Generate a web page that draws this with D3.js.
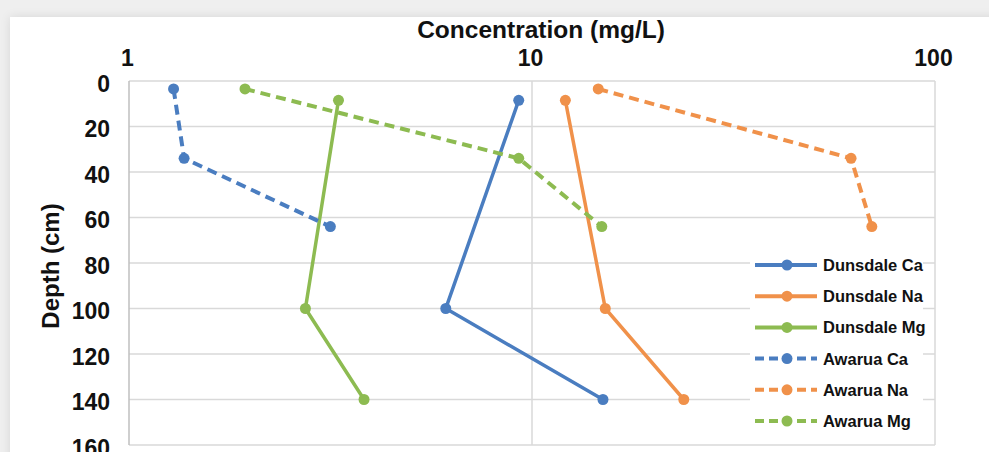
<!DOCTYPE html>
<html>
<head>
<meta charset="utf-8">
<script src="https://cdn.jsdelivr.net/npm/d3@7"></script>
<style>
body { margin: 0; background: #efefef; overflow: hidden; }
#card { position: absolute; left: 10px; top: 17px; width: 1000px; height: 480px; background: #fff; box-shadow: 0 0 10px rgba(0,0,0,0.10); }
#chart { position: absolute; left: 0; top: 0; }
text { font-family: "Liberation Sans", Arial, sans-serif; font-weight: bold; fill: #111; }
</style>
</head>
<body>
<div id="card"></div>
<div id="chart"></div>
<script>
// depths (cm) of the sampled layers
var depthDunsdale = [8.5, 100, 140];
var depthAwarua = [3.5, 34, 64];

// concentrations (mg/L)
var dunsdaleCa = [9.27, 6.11, 15.0];
var dunsdaleNa = [12.1, 15.2, 23.8];
var dunsdaleMg = [3.31, 2.74, 3.83];
var awaruaCa = [1.29, 1.37, 3.16];
var awaruaNa = [14.6, 61.9, 69.7];
var awaruaMg = [1.94, 9.27, 14.9];

var seriesNames = ["Dunsdale Ca", "Dunsdale Na", "Dunsdale Mg", "Awarua Ca", "Awarua Na", "Awarua Mg"];
var xTicks = [1, 10, 100];
var yTicks = [0, 20, 40, 60, 80, 100, 120, 140, 160];

var colors = ["#4a7dc0", "#f0914a", "#8dbb51", "#4a7dc0", "#f0914a", "#8dbb51"];
var dashed = [false, false, false, true, true, true];

var series = [
    {name: seriesNames[0], depth: depthDunsdale, values: dunsdaleCa},
    {name: seriesNames[1], depth: depthDunsdale, values: dunsdaleNa},
    {name: seriesNames[2], depth: depthDunsdale, values: dunsdaleMg},
    {name: seriesNames[3], depth: depthAwarua, values: awaruaCa},
    {name: seriesNames[4], depth: depthAwarua, values: awaruaNa},
    {name: seriesNames[5], depth: depthAwarua, values: awaruaMg}
];
series.forEach(function(s, i) {
    s.color = colors[i];
    s.dashed = dashed[i];
    s.points = s.values.map(function(v, j) { return {value: v, depth: s.depth[j]}; });
});

var width = 989, height = 460;
var plot = {left: 129, right: 935, top: 81, bottom: 445};

var x = d3.scaleLog().domain([1, 100]).range([plot.left, plot.right]);
var y = d3.scaleLinear().domain([0, 160]).range([plot.top, plot.bottom]);

var svg = d3.select("#chart")
    .append("svg")
    .attr("width", width)
    .attr("height", height);

// gridlines
svg.append("g")
    .selectAll("line")
    .data(yTicks)
    .join("line")
    .attr("x1", plot.left).attr("x2", plot.right)
    .attr("y1", function(d) { return y(d); })
    .attr("y2", function(d) { return y(d); })
    .attr("stroke", "#d9d9d9")
    .attr("stroke-width", 1.5);

svg.append("g")
    .selectAll("line")
    .data(xTicks)
    .join("line")
    .attr("x1", function(d) { return x(d); })
    .attr("x2", function(d) { return x(d); })
    .attr("y1", plot.top).attr("y2", plot.bottom)
    .attr("stroke", function(d, i) { return i == 0 ? "#bfbfbf" : "#d9d9d9"; })
    .attr("stroke-width", 1.5);

// top axis (concentration)
var xAxis = d3.axisTop(x).tickValues(xTicks).tickFormat(d3.format("d")).tickSize(0);
var gx = svg.append("g")
    .attr("transform", "translate(-2,66)")
    .call(xAxis);
gx.select(".domain").remove();
gx.selectAll("text").attr("dy", 0).attr("y", 0).style("font-size", "23px");

// left axis (depth)
var yAxis = d3.axisLeft(y).tickValues(yTicks).tickSize(0);
var gy = svg.append("g")
    .attr("transform", "translate(110,0)")
    .call(yAxis);
gy.select(".domain").remove();
gy.selectAll("text").attr("x", 0).attr("dy", 10).style("font-size", "23px");

svg.append("text")
    .attr("x", 541)
    .attr("y", 38)
    .attr("text-anchor", "middle")
    .style("font-size", "24.5px")
    .text("Concentration (mg/L)");

svg.append("text")
    .attr("transform", "translate(59,266) rotate(-90)")
    .attr("text-anchor", "middle")
    .style("font-size", "24px")
    .text("Depth (cm)");

// lines
var valueline = d3.line()
    .x(function(d) { return x(d.value); })
    .y(function(d) { return y(d.depth); });

series.forEach(function(s) {
    svg.append("path")
        .attr("d", valueline(s.points))
        .attr("fill", "none")
        .attr("stroke", s.color)
        .attr("stroke-width", s.dashed ? 4 : 3.5)
        .attr("stroke-dasharray", s.dashed ? "10,6" : null);
    svg.append("g")
        .selectAll("circle")
        .data(s.points)
        .join("circle")
        .attr("cx", function(d) { return x(d.value); })
        .attr("cy", function(d) { return y(d.depth); })
        .attr("r", 5.5)
        .attr("fill", s.color);
});

// legend
var legend = svg.append("g");
legend.append("rect")
    .attr("x", 750).attr("y", 245)
    .attr("width", 173).attr("height", 197)
    .attr("fill", "#fff");

var item = legend.selectAll("g.item")
    .data(series)
    .join("g")
    .attr("class", "item")
    .attr("transform", function(d, i) { return "translate(0," + (265 + i * 31.2) + ")"; });

item.append("line")
    .attr("x1", 755).attr("x2", 817)
    .attr("stroke", function(d) { return d.color; })
    .attr("stroke-width", 4)
    .attr("stroke-dasharray", function(d) { return d.dashed ? "9,5" : null; });
item.append("circle")
    .attr("cx", 787)
    .attr("r", 5.5)
    .attr("fill", function(d) { return d.color; });
item.append("text")
    .attr("x", 823)
    .attr("dy", "0.36em")
    .style("font-size", "16.5px")
    .text(function(d) { return d.name; });
</script>
</body>
</html>
